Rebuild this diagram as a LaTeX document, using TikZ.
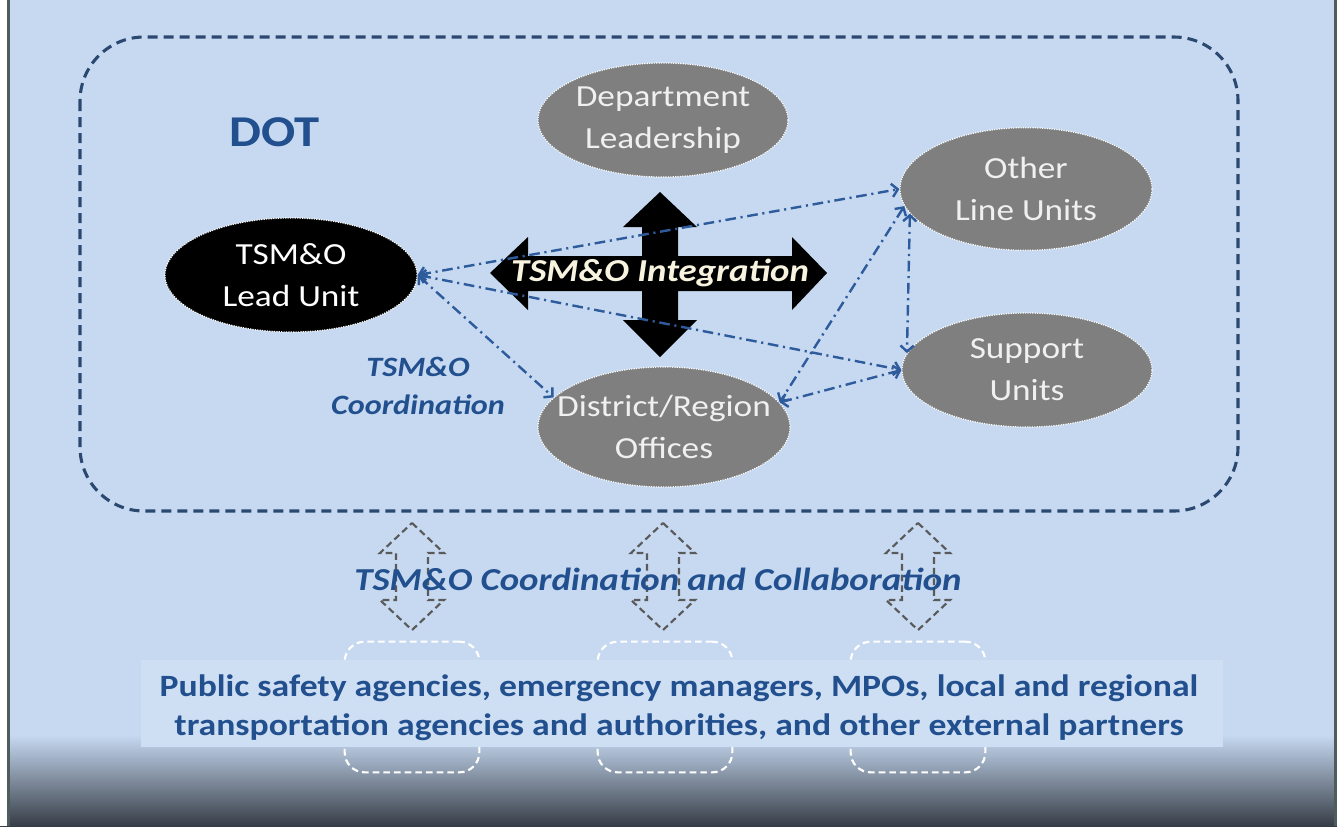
\documentclass[tikz,border=0pt]{standalone}
\usepackage{fontspec}
\setmainfont{Carlito}[FakeStretch=1.15]
\usetikzlibrary{shapes.geometric,arrows.meta}
\definecolor{bg}{HTML}{C6D9F1}
\definecolor{bandc}{HTML}{CFDFF3}
\definecolor{botdark}{HTML}{373D47}
\definecolor{frame}{HTML}{4E5C5D}
\definecolor{rectblue}{HTML}{2B4970}
\definecolor{textblue}{HTML}{22508E}
\definecolor{linkblue}{HTML}{2E5B9B}
\definecolor{ellgray}{HTML}{7F7F7F}
\definecolor{arrgray}{HTML}{5A5A5A}
\definecolor{cream}{HTML}{F7F3DE}
\tikzset{
  unitell/.style={ellipse, fill=ellgray, draw=white, line width=0.9pt,
    dash pattern=on 0.9pt off 0.9pt, inner sep=0pt, align=center,
    text=white!94!black, font=\fontsize{23}{31.5}\selectfont},
  link/.style={draw=linkblue, line width=1.8pt,
    dash pattern=on 8pt off 3.5pt on 1.6pt off 3.5pt,
    {Straight Barb[length=4.5pt,width=10pt]}-{Straight Barb[length=4.5pt,width=10pt]}},
  bluelabel/.style={text=textblue, font=\bfseries\itshape\fontsize{21}{28}\selectfont, align=center, inner sep=0pt},
  wbox/.style={draw=white, line width=1.6pt, dash pattern=on 5pt off 3pt,
    rounded corners=15pt, minimum width=101pt, minimum height=98pt, inner sep=0pt},
  grayarrow/.style={draw=arrgray, line width=1.6pt, dash pattern=on 5pt off 3pt, line join=miter}
}
\begin{document}
\begin{tikzpicture}[x=0.75pt,y=-0.75pt]
\useasboundingbox (0,0) rectangle (1337,826);
% background
\fill[bg] (0,0) rectangle (1337,826);
\shade[top color=bg, bottom color=botdark] (0,735) rectangle (1337,826);
\fill[white] (0,0) rectangle (7,826);
\fill[frame] (7,0) rectangle (10,826);
\fill[frame] (1334,0) rectangle (1337,826);

% DOT container
\draw[rectblue, line width=2.3pt, dash pattern=on 7.5pt off 4.5pt, rounded corners=48pt]
  (80,37) rectangle (1238,511);
\node[text=textblue, font=\bfseries\fontsize{33}{40}\selectfont, inner sep=0pt] (dot) at (275,132) {DOT};

% integration cross
\fill[black] (660,192) -- (697,227) -- (678,227) -- (678,256) -- (792,256) -- (792,237)
  -- (827,273) -- (792,310) -- (792,291) -- (678,291) -- (678,320) -- (697,320)
  -- (660,357) -- (623,320) -- (642,320) -- (642,291) -- (528,291) -- (528,310)
  -- (490,273) -- (528,237) -- (528,256) -- (642,256) -- (642,227) -- (623,227) -- cycle;

% units
\node[unitell, fill=black, text=white, minimum width=189pt, minimum height=85.5pt] (lead) at (291,275) {TSM\&O\\Lead Unit};
\node[unitell, minimum width=187.5pt, minimum height=85.5pt] (dept) at (663,120) {Department\\Leadership};
\node[unitell, minimum width=189pt, minimum height=92pt] (other) at (1026,189) {Other\\Line Units};
\node[unitell, minimum width=187.5pt, minimum height=85.5pt] (support) at (1027,370) {Support\\Units};
\node[unitell, minimum width=189pt, minimum height=90pt] (district) at (664,427) {\makebox[0pt]{District/Region}\\\makebox[0pt]{Offices}};

% coordination links
\draw[link] (lead.east) -- (other.west);
\draw[link] (lead.east) -- (support.west);
\draw[link] (lead.east) -- (district.165);
\draw[link] (other.188) -- (district.12);
\draw[link] (support.west) -- (district.12);
\draw[link] (other.192) -- (support.172);

\node[text=cream, font=\bfseries\itshape\fontsize{24}{28}\selectfont, inner sep=0pt] (integ) at (660,273) {TSM\&O Integration};
\node[bluelabel] (coord) at (418,386) {TSM\&O\\Coordination};

% external partners
\node[wbox] (b1) at (412,707) {};
\node[wbox] (b2) at (665,707) {};
\node[wbox] (b3) at (918,707) {};
\fill[bandc] (141,660) rectangle (1223,747);

\foreach \cx in {412,663,918}{
  \draw[grayarrow] (\cx,523) -- (\cx+32,553) -- (\cx+16,553) -- (\cx+16,600) -- (\cx+32,600)
    -- (\cx,630) -- (\cx-32,600) -- (\cx-16,600) -- (\cx-16,553) -- (\cx-32,553) -- cycle;
}
\node[text=textblue, font=\bfseries\itshape\fontsize{24}{28}\selectfont, inner sep=0pt] (collab) at (658,579) {TSM\&O Coordination and Collaboration};
\node[text=textblue, font=\bfseries\fontsize{23.25}{29.25}\selectfont, align=center, inner sep=0pt] (ext) at (679,708)
  {Public safety agencies, emergency managers, MPOs, local and regional\\transportation agencies and authorities, and other external partners};
\end{tikzpicture}
\end{document}
